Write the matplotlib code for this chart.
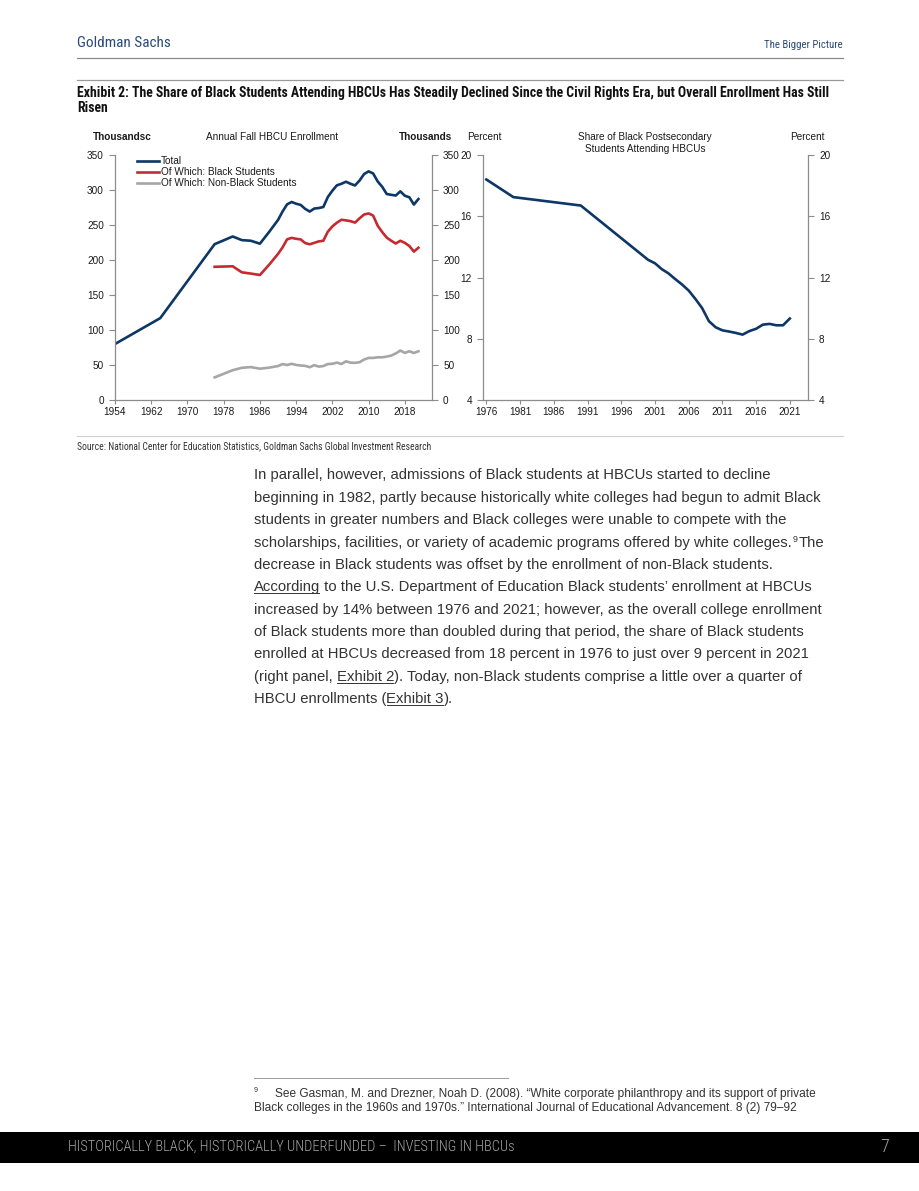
import matplotlib
matplotlib.use("Agg")
import matplotlib.pyplot as plt
from matplotlib import font_manager as fm
from matplotlib.lines import Line2D

# ---------------- data ----------------
total_years = [1954, 1964, 1976, 1980, 1982, 1984, 1986, 1988, 1990, 1991, 1992, 1993,
               1994, 1995, 1996, 1997, 1998, 1999, 2000, 2001, 2002, 2003, 2004, 2005,
               2006, 2007, 2008, 2009, 2010, 2011, 2012, 2013, 2014, 2015, 2016, 2017,
               2018, 2019, 2020, 2021]
total_enroll = [80.0, 117.0, 222.6, 233.6, 228.4, 227.5, 223.3, 239.8, 257.2, 269.3, 279.5, 282.9,
                280.4, 278.7, 273.0, 269.2, 273.5, 274.2, 275.7, 290.0, 299.0, 306.7, 308.9, 311.8,
                308.9, 306.5, 313.5, 322.8, 326.6, 323.6, 312.3, 304.6, 294.3, 293.1, 292.1, 298.1,
                291.8, 289.6, 279.2, 287.1]

sub_years = [1976, 1980, 1982, 1984, 1986, 1988, 1990, 1991, 1992, 1993, 1994, 1995,
             1996, 1997, 1998, 1999, 2000, 2001, 2002, 2003, 2004, 2005, 2006, 2007,
             2008, 2009, 2010, 2011, 2012, 2013, 2014, 2015, 2016, 2017, 2018, 2019,
             2020, 2021]
black_enroll = [190.3, 191.0, 182.4, 180.6, 178.6, 193.0, 208.7, 218.0, 229.5, 231.6, 230.3, 229.4,
                224.2, 222.4, 224.5, 226.6, 227.5, 240.5, 248.0, 253.3, 257.5, 256.6, 255.5, 253.4,
                259.5, 265.0, 266.5, 263.5, 249.0, 240.0, 232.0, 227.5, 223.5, 227.5, 224.5, 220.0,
                212.0, 217.5]
nonblack_enroll = [32.3, 42.6, 46.0, 47.0, 44.7, 46.2, 48.5, 51.3, 50.0, 51.7, 50.1, 49.3,
                   48.8, 46.8, 49.8, 47.7, 48.5, 51.4, 51.7, 53.4, 51.4, 55.2, 53.4, 53.1,
                   54.0, 57.8, 60.1, 60.1, 61.0, 61.0, 62.0, 63.5, 66.5, 70.6, 67.3, 69.6,
                   67.2, 69.6]

share_years = [1976, 1980, 1990, 2000, 2001, 2002, 2003, 2004, 2005, 2006, 2007, 2008,
               2009, 2010, 2011, 2012, 2013, 2014, 2015, 2016, 2017, 2018, 2019, 2020, 2021]
share_pct = [18.4, 17.25, 16.7, 13.15, 12.93, 12.55, 12.27, 11.9, 11.55, 11.15, 10.6, 10.0,
             9.15, 8.75, 8.55, 8.47, 8.38, 8.27, 8.5, 8.65, 8.92, 8.97, 8.88, 8.88, 9.32]

left_xticks = [1954, 1962, 1970, 1978, 1986, 1994, 2002, 2010, 2018]
left_yticks = [0, 50, 100, 150, 200, 250, 300, 350]
right_xticks = [1976, 1981, 1986, 1991, 1996, 2001, 2006, 2011, 2016, 2021]
right_yticks = [4, 8, 12, 16, 20]

series_labels = ["Total", "Of Which: Black Students", "Of Which: Non-Black Students"]

body_lines = [
    [("In parallel, however, admissions of Black students at HBCUs started to decline", "n")],
    [("beginning in 1982, partly because historically white colleges had begun to admit Black", "n")],
    [("students in greater numbers and Black colleges were unable to compete with the", "n")],
    [("scholarships, facilities, or variety of academic programs offered by white colleges.", "n"),
     ("9", "s"), ("The", "n")],
    [("decrease in Black students was offset by the enrollment of non-Black students.", "n")],
    [("According", "u"), (" to the U.S. Department of Education Black students\u2019 enrollment at HBCUs", "n")],
    [("increased by 14% between 1976 and 2021; however, as the overall college enrollment", "n")],
    [("of Black students more than doubled during that period, the share of Black students", "n")],
    [("enrolled at HBCUs decreased from 18 percent in 1976 to just over 9 percent in 2021", "n")],
    [("(right panel, ", "n"), ("Exhibit 2", "u"),
     ("). Today, non-Black students comprise a little over a quarter of", "n")],
    [("HBCU enrollments (", "n"), ("Exhibit 3", "u"), (").", "n")],
]

# ---------------- fonts ----------------
installed = {f.name for f in fm.fontManager.ttflist}


def pick(*cands):
    for c in cands:
        if c in installed:
            return c
    return "DejaVu Sans"


def has_light(name):
    for f in fm.fontManager.ttflist:
        if f.name == name and isinstance(f.weight, int) and f.weight <= 350:
            return True
        if f.name == name and f.weight in ("light", "extra light", "ultralight"):
            return True
    return False


COND = pick("Roboto Condensed", "Liberation Sans Narrow", "Open Sans Condensed", "DejaVu Sans")
COND_STRETCH = "condensed" if COND == "DejaVu Sans" else "normal"
ARIAL = pick("Liberation Sans", "Arimo", "DejaVu Sans")
BODY = pick("Liberation Sans", "Roboto", "DejaVu Sans")
BODY_W = "normal"
COND_LIGHT = "light" if has_light(COND) else "normal"

plt.rcParams["font.family"] = [ARIAL, "DejaVu Sans"]
plt.rcParams["font.stretch"] = "normal"

W, H = 920, 1191
fig = plt.figure(figsize=(W / 100, H / 100), dpi=100)
fig.patch.set_facecolor("white")
renderer = fig.canvas.get_renderer()

NAVY = "#0c3766"
RED = "#c52a30"
GRAY = "#a6a6a6"
AXC = "#8c8c8c"
HDR = "#2a4b78"


def fx(x):
    return x / W


def fy(y):
    return 1 - y / H


def measure(s, **kw):
    t1 = fig.text(0, 0, s + "|", **kw)
    t2 = fig.text(0, 0, "|", **kw)
    w = t1.get_window_extent(renderer).width - t2.get_window_extent(renderer).width
    t1.remove()
    t2.remove()
    return w


def fit_size(s, target, base=8.0, **kw):
    w = measure(s, fontsize=base, **kw)
    return base * target / w


def hline(x0, x1, y, color="#9a9a9a", lw=1.0):
    fig.add_artist(Line2D([fx(x0), fx(x1)], [fy(y), fy(y)], color=color, lw=lw,
                          transform=fig.transFigure))


# ---------------- header ----------------
kw_c = dict(family=COND, fontstretch=COND_STRETCH)
fs = fit_size("Goldman Sachs", 94, **kw_c)
fig.text(fx(77), fy(47), "Goldman Sachs", fontsize=fs, color=HDR, va="baseline", **kw_c)
fs = fit_size("The Bigger Picture", 78, **kw_c)
fig.text(fx(843), fy(47.5), "The Bigger Picture", fontsize=fs, color=HDR, va="baseline",
         ha="right", **kw_c)
hline(77, 843, 57.5, color="#8a8a8a", lw=0.9)
hline(77, 843, 79.5, color="#9a9a9a", lw=0.9)

title1 = ("Exhibit 2: The Share of Black Students Attending HBCUs Has Steadily Declined Since "
          "the Civil Rights Era, but Overall Enrollment Has Still")
fs_t = fit_size(title1, 751, weight="bold", **kw_c)
fig.text(fx(77), fy(97.5), title1, fontsize=fs_t, weight="bold", color="#111111", va="baseline", **kw_c)
fig.text(fx(77), fy(112), "Risen", fontsize=fs_t, weight="bold", color="#111111", va="baseline", **kw_c)

# ---------------- charts ----------------
TICK_FS = 7.2


def style_axes(ax):
    ax.set_facecolor("none")
    ax.spines["top"].set_visible(False)
    for s in ("left", "right", "bottom"):
        ax.spines[s].set_color(AXC)
        ax.spines[s].set_linewidth(0.9)
    ax.tick_params(axis="y", which="both", direction="out", length=4, width=0.8, color=AXC,
                   labelsize=TICK_FS, labelcolor="#1a1a1a", left=True, right=True,
                   labelleft=True, labelright=True, pad=4,
                   labelfontfamily=ARIAL)
    ax.tick_params(axis="x", direction="out", length=3, width=0.8, color=AXC,
                   labelsize=TICK_FS, labelcolor="#1a1a1a", pad=2,
                   labelfontfamily=ARIAL)


ax1 = fig.add_axes([fx(115), fy(400), (432 - 115) / W, 245 / H])
ax1.plot(total_years, total_enroll, color=NAVY, lw=1.9, label=series_labels[0], solid_joinstyle="round")
ax1.plot(sub_years, black_enroll, color=RED, lw=1.9, label=series_labels[1], solid_joinstyle="round")
ax1.plot(sub_years, nonblack_enroll, color=GRAY, lw=1.9, label=series_labels[2], solid_joinstyle="round")
ax1.set_xlim(1954, 2024)
ax1.set_ylim(0, 350)
ax1.set_xticks(left_xticks)
ax1.set_yticks(left_yticks)
style_axes(ax1)

leg = ax1.legend(loc="upper left", bbox_to_anchor=(fx(137), fy(156)), bbox_transform=fig.transFigure,
                 frameon=False, prop={"family": ARIAL, "size": TICK_FS}, handlelength=2.2,
                 handletextpad=0.2, labelspacing=0.12, borderpad=0, borderaxespad=0)
for t in leg.get_texts():
    t.set_color("#1a1a1a")

ax2 = fig.add_axes([fx(483), fy(400), (808 - 483) / W, 245 / H])
ax2.plot(share_years, share_pct, color=NAVY, lw=1.9, solid_joinstyle="round")
ax2.set_xlim(1975.5, 2023.7)
ax2.set_ylim(4, 20)
ax2.set_xticks(right_xticks)
ax2.set_yticks(right_yticks)
style_axes(ax2)

hdr_kw = dict(family=ARIAL, fontsize=TICK_FS, color="#1a1a1a", va="baseline")
fig.text(fx(93), fy(140.5), "Thousandsc", weight="bold", **hdr_kw)
fig.text(fx(272), fy(140.5), "Annual Fall HBCU Enrollment", ha="center", **hdr_kw)
fig.text(fx(452), fy(140.5), "Thousands", ha="right", weight="bold", **hdr_kw)
fig.text(fx(467), fy(140.5), "Percent", **hdr_kw)
fig.text(fx(645), fy(140.5), "Share of Black Postsecondary", ha="center", **hdr_kw)
fig.text(fx(645), fy(152.5), "Students Attending HBCUs", ha="center", **hdr_kw)
fig.text(fx(825), fy(140.5), "Percent", ha="right", **hdr_kw)

hline(77, 843, 435.5, color="#d0d0d0", lw=0.8)
src = "Source: National Center for Education Statistics, Goldman Sachs Global Investment Research"
fs_s = fit_size(src, 355, **kw_c)
fig.text(fx(77), fy(450.5), src, fontsize=fs_s, color="#333333", va="baseline", **kw_c)

# ---------------- body text ----------------
body_kw = dict(family=BODY, weight=BODY_W)
fs_b = fit_size(body_lines[0][0][0], 520, **body_kw)
BODY_COLOR = "#333333"
y0 = 479.5
for i, runs in enumerate(body_lines):
    yb = y0 + i * 22.35
    x = 254.0
    for text, kind in runs:
        if kind == "s":
            size = fs_b * 0.6
            fig.text(fx(x + 0.5), fy(yb - 5), text, fontsize=size, color=BODY_COLOR,
                     va="baseline", **body_kw)
            x += measure(text, fontsize=size, **body_kw) + 2.0
            continue
        fig.text(fx(x), fy(yb), text, fontsize=fs_b, color=BODY_COLOR, va="baseline", **body_kw)
        w = measure(text, fontsize=fs_b, **body_kw)
        if kind == "u":
            hline(x + 0.5, x + w - 1.0, yb + 2.2, color=BODY_COLOR, lw=0.7)
        x += w

# ---------------- footnote ----------------
hline(254, 508, 1077.5, color="#9a9a9a", lw=0.7)
fn1 = ("See Gasman, M. and Drezner, Noah D. (2008). \u201cWhite corporate philanthropy and "
       "its support of private")
fn2 = ("Black colleges in the 1960s and 1970s.\u201d International Journal of Educational "
       "Advancement. 8 (2) 79\u201392")
fs_f = fit_size(fn1, 547, **body_kw)
fig.text(fx(254), fy(1092), "9", fontsize=fs_f * 0.6, color=BODY_COLOR, va="baseline", **body_kw)
fig.text(fx(275), fy(1097), fn1, fontsize=fs_f, color=BODY_COLOR, va="baseline", **body_kw)
fig.text(fx(254), fy(1111), fn2, fontsize=fs_f, color=BODY_COLOR, va="baseline", **body_kw)

# ---------------- footer band ----------------
fig.add_artist(plt.Rectangle((0, fy(1163)), 1, (1163 - 1132) / H, transform=fig.transFigure,
                             facecolor="black", edgecolor="none"))
foot = "HISTORICALLY BLACK, HISTORICALLY UNDERFUNDED \u2013  INVESTING IN HBCUs"
kw_f = dict(family=COND, fontstretch=COND_STRETCH, weight=COND_LIGHT)
fs_ft = fit_size(foot, 449, **kw_f)
fig.text(fx(68), fy(1151), foot, fontsize=fs_ft, color="#a8a8a8", va="baseline", **kw_f)
fig.text(fx(889), fy(1151.5), "7", fontsize=fs_ft * 1.25, color="#a8a8a8", va="baseline",
         ha="right", **kw_f)

fig.savefig("out.png", dpi=100, facecolor="white")
